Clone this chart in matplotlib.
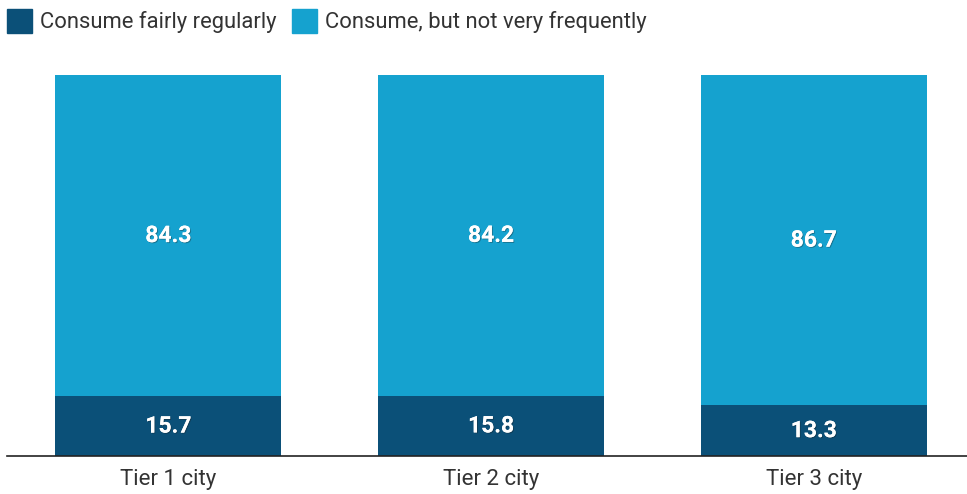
import numpy as np
import matplotlib.pyplot as plt
import matplotlib.patheffects as pe
from matplotlib.patches import Rectangle

plt.rcParams['font.family'] = ['Roboto', 'DejaVu Sans']

cities = ['Tier 1 city', 'Tier 2 city', 'Tier 3 city']
regular = [15.7, 15.8, 13.3]
infrequent = [84.3, 84.2, 86.7]
series_names = ['Consume fairly regularly', 'Consume, but not very frequently']

dark = '#0b5078'
light = '#15a2cf'

W, H = 967, 494
fig = plt.figure(figsize=(W / 100, H / 100), dpi=100)
ax = fig.add_axes([0.0072, 0.0769, 0.9928, 0.7713])

x = np.arange(len(cities))
b1 = ax.bar(x, regular, width=0.7, color=dark)
b2 = ax.bar(x, infrequent, width=0.7, bottom=regular, color=light)

shadow = [pe.withSimplePatchShadow(offset=(0.7, -0.7), shadow_rgbFace='#1a1a1a', alpha=0.35), pe.Normal()]
for i in range(len(cities)):
    ax.text(x[i], regular[i] / 2, f'{regular[i]:.1f}', ha='center', va='center',
            color='white', fontsize=16.5, fontweight='bold', path_effects=shadow)
    ax.text(x[i], regular[i] + infrequent[i] / 2, f'{infrequent[i]:.1f}', ha='center', va='center',
            color='white', fontsize=16.5, fontweight='bold', path_effects=shadow)

ax.set_xlim(-0.5, 2.475)
ax.set_ylim(0, 100)
ax.set_xticks(x)
ax.set_xticklabels(cities, fontsize=16, color='#333333')
ax.tick_params(axis='x', length=0, pad=9)
ax.set_yticks([])
for s in ['top', 'right', 'left']:
    ax.spines[s].set_visible(False)
ax.spines['bottom'].set_color('#222222')
ax.spines['bottom'].set_linewidth(1.2)

# legend drawn by hand in pixel units along the top edge
for px, name, col in zip([7, 292], series_names, [dark, light]):
    fig.patches.append(Rectangle((px / W, 1 - 33 / H), 25 / W, 24 / H,
                                 transform=fig.transFigure, color=col))
    fig.text((px + 33) / W, 1 - 28 / H, name, fontsize=15.8, color='#333333',
             ha='left', va='baseline')

fig.savefig('out.png', dpi=100)
